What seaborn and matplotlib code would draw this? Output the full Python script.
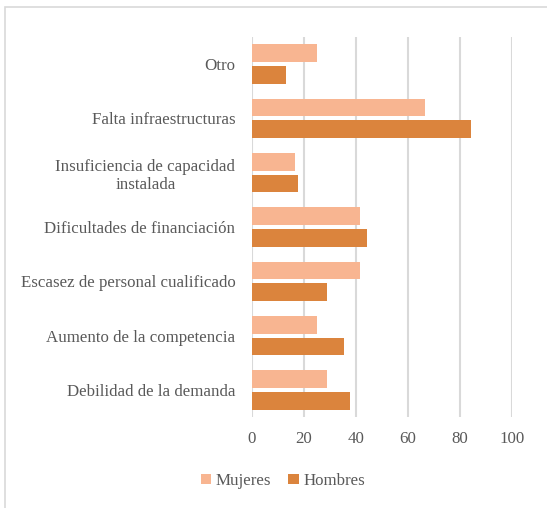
import matplotlib
matplotlib.use("Agg")
import matplotlib.pyplot as plt
import seaborn as sns
import pandas as pd
from matplotlib.patches import Rectangle

categories = ["Otro", "Falta infraestructuras", "Insuficiencia de capacidad\ninstalada",
              "Dificultades de financiación", "Escasez de personal cualificado",
              "Aumento de la competencia", "Debilidad de la demanda"]
mujeres = [25, 66.5, 16.5, 41.5, 41.5, 25, 29]
hombres = [13.2, 84.4, 17.6, 44.2, 28.8, 35.5, 37.7]
series = ["Mujeres", "Hombres"]
colors = ["#F8B591", "#DB843D"]
xticks = [0, 20, 40, 60, 80, 100]

df = pd.DataFrame({
    "cat": categories * 2,
    "val": mujeres + hombres,
    "serie": [series[0]] * len(categories) + [series[1]] * len(categories),
})

sns.set_theme(style="white")
plt.rcParams["font.family"] = ["Liberation Serif", "DejaVu Serif"]
txt = "#595959"
fs = 12.2

fig = plt.figure(figsize=(5.47, 5.08), dpi=100)
ax = fig.add_axes([252/547, 1-417/508, 260/547, 380/508])
sns.barplot(data=df, y="cat", x="val", hue="serie", orient="h",
            palette=colors, saturation=1, width=0.8, gap=0.18, ax=ax,
            edgecolor="none", linewidth=0, zorder=3)
ax.set_xlim(0, 100)
ax.set_ylim(6.5, -0.5)
ax.set_xticks(xticks)
ax.set_xticklabels([str(t) for t in xticks])
ax.grid(axis="x", color="#D9D9D9", linewidth=1.5, zorder=0)
ax.grid(axis="y", visible=False)
ax.set_axisbelow(True)
for s in ax.spines.values():
    s.set_visible(False)
ax.set_xlabel("")
ax.set_ylabel("")
ax.tick_params(axis="both", length=0, colors=txt, labelsize=fs)
ax.tick_params(axis="x", pad=10)
ax.tick_params(axis="y", pad=12)
for lab in ax.get_yticklabels():
    lab.set_multialignment("center")
    lab.set_color(txt)
for lab in ax.get_xticklabels():
    lab.set_color(txt)

leg = ax.legend(loc="center", bbox_to_anchor=(283/547, 1-481/508),
                bbox_transform=fig.transFigure, ncol=2, frameon=False,
                fontsize=fs, handlelength=0.6, handleheight=0.6,
                handletextpad=0.3, columnspacing=1.0)
for t in leg.get_texts():
    t.set_color(txt)

fig.patches.append(Rectangle((5/547, -0.1), 2, 1.1-7/508, transform=fig.transFigure,
                             fill=False, edgecolor="#D9D9D9", linewidth=1.2))
fig.savefig("out.png", dpi=100)
